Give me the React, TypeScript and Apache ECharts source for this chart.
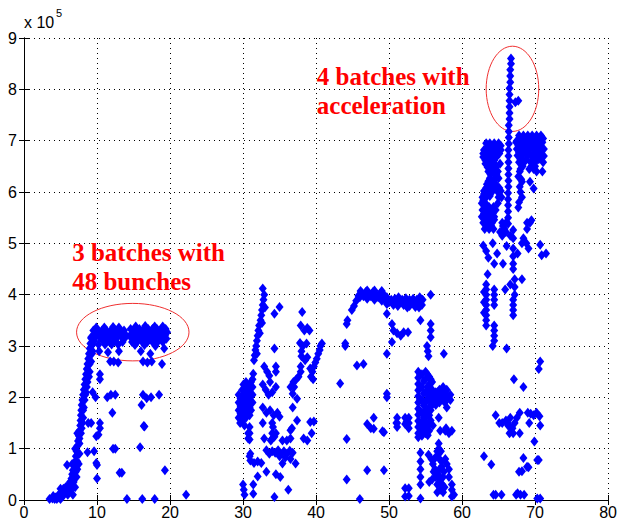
import React, { useEffect, useRef } from "react";
import * as echarts from "echarts";

// y values are in units of 10^5 (axis label "x 10^5")
const xTickValues = [0, 10, 20, 30, 40, 50, 60, 70, 80];
const yTickValues = [0, 1, 2, 3, 4, 5, 6, 7, 8, 9];

const rampPoints: number[][] = [
  [3.5,0.02],[3.9,0.03],[4.3,0.05],[4.6,0.08],[4.9,0.12],[5.2,0.17],[5.4,0.22],[5.7,0.25],[5.9,0.2],[6.1,0.3],
  [6.3,0.35],[6.5,0.42],[6.6,0.5],[6.7,0.58],[6.9,0.65],[7.0,0.75],[7.1,0.85],[7.2,0.95],[7.3,1.05],[7.4,1.15],
  [7.5,1.25],[7.6,1.35],[7.7,1.45],[7.75,1.55],[7.8,1.65],[7.85,1.75],[7.9,1.85],[8.0,1.95],[8.1,2.05],[8.2,2.15],
  [8.3,2.25],[8.4,2.35],[8.5,2.45],[8.6,2.55],[8.7,2.65],[8.8,2.75],[8.9,2.85],[9.0,2.95],[9.1,3.05],[9.2,3.15],
  [4.0,0.08],[4.8,0.05],[5.0,0.22],[5.5,0.12],[6.0,0.1],[6.4,0.2],[6.8,0.35],[7.2,0.45],[6.6,0.7],[7.5,0.7],
  [7.0,1.0],[7.3,1.3],[7.6,1.1],[7.9,1.4],[8.1,1.6],[8.2,1.8],[8.5,2.1],[8.7,2.3],[9.0,2.5],[9.2,2.7],
  [9.4,2.9],[6.7,0.1],[5.9,0.68],[7.0,0.25],[7.3,0.6],[7.6,0.9],
  [4.2,0.02],[4.5,0.02],[5.0,0.02],[5.3,0.07],[5.6,0.17],[6.2,0.15],[6.5,0.25],[6.8,0.45],[7.1,0.55],
  [7.3,0.75],[7.4,0.9],[7.6,1.2],[7.8,1.3],[8.0,1.5],[8.1,1.75],[8.3,1.95],[8.4,2.05],[8.6,2.2],[8.9,2.4],
  [9.0,2.65],[9.3,2.85],[9.5,3.1],
];

const plateauPoints: number[][] = [
  [9.5,3.3],[10.1,3.3],[10.7,3.3],[11.3,3.3],[11.9,3.3],[12.5,3.3],[13.1,3.3],[13.7,3.3],
  [9.2,3.17],[9.8,3.17],[10.4,3.17],[11.0,3.17],[11.6,3.17],[12.2,3.17],[12.8,3.17],[13.4,3.17],[13.9,3.17],
  [9.4,3.03],[10.2,3.03],[11.1,3.03],[12.0,3.03],[12.9,3.03],
  [14.6,3.33],[15.2,3.33],[15.8,3.33],[16.4,3.33],[17.0,3.33],[17.6,3.33],[18.2,3.33],[18.8,3.33],[19.4,3.33],
  [14.5,3.2],[15.1,3.2],[15.7,3.2],[16.3,3.2],[16.9,3.2],[17.5,3.2],[18.1,3.2],[18.7,3.2],[19.3,3.2],
  [14.8,3.08],[15.5,3.08],[16.2,3.08],[16.9,3.08],[17.6,3.08],[18.3,3.08],[19.0,3.08],
  [11.5,2.88],[13.0,2.9],[16.0,2.9],[17.3,2.85],[19.2,2.95],[10.3,2.9],
  [9.7,3.24],[10.3,3.24],[10.9,3.24],[11.5,3.24],[12.1,3.24],[12.7,3.24],[13.3,3.24],[13.8,3.24],
  [9.6,3.1],[10.8,3.1],[11.6,3.1],[12.4,3.1],[13.5,3.08],[9.9,3.36],[11.0,3.36],[12.2,3.37],[13.0,3.36],
  [14.9,3.27],[15.5,3.27],[16.1,3.27],[16.7,3.27],[17.3,3.27],[17.9,3.27],[18.5,3.27],[19.1,3.27],[19.6,3.27],
  [14.8,3.14],[15.4,3.14],[16.0,3.14],[16.6,3.14],[17.2,3.14],[17.8,3.14],[18.4,3.14],[19.0,3.14],[19.5,3.14],
  [15.3,3.38],[16.6,3.39],[17.9,3.38],[19.0,3.38],[15.2,3.02],[16.5,3.02],[18.0,3.0],
];

const earlyScatter: number[][] = [
  [11.8,2.7],[12.3,2.7],[12.9,2.68],[16.3,2.7],[16.9,2.68],[17.5,2.7],[18.9,2.65],[10.4,2.45],[10.4,2.35],
  [11.4,2.0],[11.9,2.05],[12.5,2.05],[16.3,2.05],[16.8,1.98],[17.4,2.0],[18.5,2.05],[16.1,1.85],[12.1,1.7],
  [9.2,1.5],[10.4,1.5],[10.4,1.4],[10.2,1.27],[16.5,1.43],[8.7,0.93],[12.5,1.0],[15.9,1.03],[10.0,0.68],
  [13.1,0.53],[13.4,0.53],[19.3,0.58],[10.0,0.42],[22.2,0.1],[14.1,0.02],[16.2,0.02],[17.9,0.02],[9.6,0.95],
  [9.9,1.24],[9.9,0.72],[12.2,1.0],[16.4,1.44],[8.8,1.5],[9.4,2.1],[9.8,2.0],
];

const batch30Points: number[][] = [
  [29.4,1.6],[29.4,1.75],[29.4,1.9],[29.4,2.05],
  [29.9,1.55],[29.9,1.7],[29.9,1.85],[29.9,2.0],[29.9,2.15],
  [30.4,1.6],[30.4,1.75],[30.4,1.9],[30.4,2.05],[30.4,2.2],[30.4,2.3],
  [30.9,1.65],[30.9,1.8],[30.9,1.95],[30.9,2.1],[30.9,2.25],
  [31.3,1.9],[31.3,2.05],[31.3,2.2],[31.3,2.35],
  [29.65,1.68],[29.65,1.83],[29.65,1.98],[30.15,1.62],[30.15,1.78],[30.15,1.93],[30.15,2.08],[30.65,1.7],
  [30.65,1.85],[30.65,2.0],[30.65,2.15],[31.1,1.75],[31.1,1.9],[31.1,2.05],[31.1,2.3],[29.6,1.5],[30.05,2.25],
  [30.2,1.45],[30.9,1.42],[30.9,1.3],[30.9,1.18],[31.4,2.46],
  [31.5,2.72],[31.6,2.82],[31.7,2.92],[31.8,3.0],[31.9,3.1],[32.0,3.2],[32.1,3.3],[32.2,3.4],[32.4,3.5],
  [32.5,3.6],[32.6,3.7],[32.7,3.8],[32.8,3.9],[32.9,4.0],[32.7,4.12],[31.9,2.85],[32.3,3.25],[32.6,3.45],[33.0,3.75],
  [32.9,2.6],[33.3,2.5],[33.6,2.42],[34.5,2.6],[34.5,2.5],[32.7,2.25],[33.1,2.15],[33.5,2.05],[34.0,2.1],
  [34.5,2.2],[33.7,2.3],[34.3,2.95],[35.0,3.76],[34.3,3.63],
  [32.7,1.8],[33.2,1.7],[33.7,1.75],[34.2,1.65],[34.7,1.7],[35.0,1.62],[32.7,1.5],[34.1,1.42],[34.5,1.3],
  [34.3,1.23],[32.9,1.2],[33.8,1.16],[35.4,1.16],[36.0,1.16],[36.5,1.2],[36.5,1.36],
  [33.2,0.97],[33.6,0.9],[34.0,0.95],[34.4,0.92],[34.8,0.97],[35.2,0.9],[35.6,0.95],[36.0,0.9],[36.4,0.96],
  [36.8,0.92],[35.0,0.85],[35.8,0.83],
  [31.0,0.77],[31.5,0.72],[32.0,0.75],[32.5,0.72],[30.9,0.85],[35.4,0.71],[37.2,0.71],[36.5,0.8],
  [30.0,0.3],[30.1,0.2],[30.2,0.1],[31.4,0.3],[31.4,0.12],[33.2,0.55],[32.0,0.46],[34.5,0.5],[35.1,0.45],
  [36.2,0.2],[34.3,0.06],[30.7,1.3],[30.7,1.2],[31.0,0.9],[34.0,1.5],[34.0,1.3],[33.9,1.18],
  [36.7,1.4],[38.3,1.2],[39.4,1.3],[39.7,1.53],[39.2,1.52],[38.8,1.16],[37.4,1.55],[36.8,1.8],[37.4,1.97],[36.8,2.07],
  [36.5,2.2],[36.9,2.3],[37.3,2.35],[37.6,2.4],[37.0,2.2],[37.9,2.5],
  [38.1,3.66],[37.9,3.4],[38.4,3.3],[38.8,3.35],[39.1,3.3],[37.8,3.06],[38.2,3.0],[38.7,3.05],[38.0,2.9],
  [38.0,2.8],[38.5,2.72],[38.8,2.78],[37.9,2.6],[39.2,2.56],
  [39.3,2.4],[39.5,2.5],[39.7,2.6],[39.9,2.68],[40.1,2.75],[40.3,2.85],[40.5,2.92],[40.8,3.05],[40.6,3.0],[39.6,2.35],
];

const arcPoints: number[][] = [
  [44.0,3.05],[44.2,3.43],[44.3,3.5],[44.9,3.7],[45.2,3.78],[45.5,3.88],[45.8,3.98],[46.3,4.03],[46.8,4.05],
  [47.3,4.02],[47.8,4.05],[48.3,4.0],[48.8,4.03],[49.3,4.0],[49.7,3.95],[47.0,3.92],[48.0,3.9],[49.0,3.88],
  [49.7,3.82],[49.7,3.63],[50.3,3.9],[50.8,3.92],[51.3,3.95],[51.8,3.9],[52.3,3.93],[52.8,3.9],[53.3,3.92],
  [53.8,3.9],[50.6,3.8],[51.2,3.78],[52.0,3.8],[52.8,3.78],[53.5,3.82],[54.0,3.85],[54.1,3.75],[55.7,4.0],
  [46.0,3.95],[46.5,3.97],[47.5,3.97],[48.5,3.95],[49.3,3.92],[50.0,3.85],[51.0,3.87],[51.5,3.85],[52.5,3.86],
  [53.0,3.85],[53.6,3.76],[54.2,3.95],[54.6,3.9],[54.5,3.8],[46.1,4.07],[47.0,4.08],[48.0,4.08],[49.0,4.07],[52.5,3.75],
  [50.4,3.43],[50.6,3.3],[51.1,3.25],[51.6,3.2],[52.0,3.27],[52.6,3.27],[50.4,3.08],[49.7,2.85],[45.6,2.62],
  [46.5,2.65],[43.3,2.27],[49.7,2.07],[49.7,2.0],[47.9,1.6],[47.0,1.48],[47.9,1.39],[49.3,1.32],[44.2,1.19],
  [51.1,1.6],[51.1,1.5],[51.1,1.42],[52.7,1.6],[52.7,1.5],[52.7,1.4],[47.0,0.58],[49.3,0.58],[44.2,0.4],
  [46.0,0.02],[47.5,1.4],[49.1,1.34],[51.0,1.5],[52.4,1.53],[52.7,0.23],[52.7,0.08],[54.3,3.5],[55.7,3.43],
  [55.7,3.3],[55.7,3.17],[55.2,3.0],[55.3,2.9],[55.4,2.8],[57.5,2.85],[44.0,3.0],
];

const batch55Points: number[][] = [
  [54.0,2.5],[54.0,2.38],[54.0,2.26],[54.0,2.14],[54.0,2.02],[54.0,1.9],[54.0,1.78],[54.0,1.66],[54.0,1.54],[54.0,1.42],[54.0,1.3],
  [54.5,2.45],[54.5,2.2],[54.5,1.95],[54.5,1.7],[54.5,1.5],[54.5,1.35],[54.5,1.25],
  [55.0,2.5],[55.0,2.35],[55.0,2.1],[55.0,1.9],[55.0,1.75],[55.0,1.6],[55.0,1.45],[55.0,1.3],
  [55.5,2.4],[55.5,2.25],[55.5,2.1],[55.5,1.95],[55.5,1.8],[55.5,1.65],[55.5,1.5],[55.5,1.35],
  [55.9,2.3],[55.9,2.15],[55.9,2.0],[55.9,1.85],
  [56.4,2.1],[56.4,1.95],[56.4,1.85],[56.9,2.15],[56.9,2.0],[56.9,1.9],[57.4,2.2],[57.4,2.05],[57.4,1.95],
  [57.9,2.15],[57.9,2.0],[57.9,1.8],[58.4,2.05],[58.4,1.95],
  [54.25,2.44],[54.25,2.2],[54.25,1.96],[54.25,1.72],[54.25,1.48],[54.75,2.32],[54.75,2.08],[54.75,1.84],
  [54.75,1.6],[54.75,1.38],[55.25,2.45],[55.25,2.2],[55.25,1.97],[55.25,1.7],[55.25,1.4],[55.7,2.35],[55.7,2.05],
  [55.7,1.75],[55.7,1.55],[56.15,2.05],[56.15,1.9],[56.65,2.1],[56.65,1.95],[57.15,2.12],[57.15,1.98],
  [57.65,2.1],[57.65,1.9],[58.15,2.0],[54.0,1.22],[54.6,1.28],[55.3,1.26],
  [56.8,1.6],[57.7,1.35],[58.2,1.3],[58.6,1.35],[52.2,1.6],[52.2,1.48],
  [56.8,1.1],[56.8,1.0],[56.8,0.9],[56.5,0.85],[57.1,0.95],[55.4,0.88],[54.3,0.92],[54.3,0.75],[54.3,0.6],
  [54.3,0.45],[54.3,0.3],[54.3,0.03],[55.8,0.8],[56.0,0.7],[56.3,0.6],[56.7,0.5],[57.0,0.4],[57.3,0.3],
  [57.6,0.25],[56.1,0.55],[55.9,0.4],[56.6,0.3],[57.2,0.65],[57.5,0.55],[57.7,0.8],[57.9,0.7],[58.2,0.6],
  [58.2,0.45],[58.6,0.3],[58.6,0.2],[58.9,0.1],[58.6,0.07],[52.2,0.23],[52.2,0.07],[55.5,0.35],
  [56.6,0.95],[56.9,0.8],[57.2,0.75],[57.4,0.45],[56.4,0.45],[56.9,0.6],[56.2,0.8],[57.0,0.2],[57.4,0.15],[56.6,0.15],
  [54.3,1.5],[54.5,1.45],[55.1,1.5],[56.0,1.45],[57.0,1.35],[57.8,1.4],
];

const spikePoints: number[][] = [
  [66.7,8.6],[66.7,8.5],[66.6,8.38],[66.6,8.26],[66.6,8.14],[66.5,8.02],[66.5,7.9],[66.5,7.78],[66.5,7.66],
  [66.5,7.54],[66.5,7.42],[66.4,7.3],[66.4,7.18],[66.4,7.06],[66.4,6.94],[66.35,6.82],[66.35,6.7],[66.35,6.58],
  [66.35,6.46],[66.35,6.34],[66.35,6.22],[66.35,6.1],[66.3,5.98],[66.3,5.86],[66.3,5.74],[66.3,5.62],
  [66.3,5.5],[66.3,5.38],[67.3,7.75],[67.7,7.78],
];

const accelPoints: number[][] = [
  [63.3,6.95],[63.8,6.95],[64.4,6.95],[65.0,6.95],
  [63.0,6.82],[63.6,6.82],[64.2,6.82],[64.8,6.82],[65.3,6.82],
  [62.9,6.68],[63.5,6.68],[64.1,6.68],[64.7,6.68],
  [63.2,6.55],[63.8,6.55],[64.4,6.55],[65.2,6.55],
  [63.6,6.4],[64.2,6.4],[64.9,6.4],
  [63.8,6.27],[64.5,6.27],[65.0,6.27],
  [63.4,6.15],[64.0,6.15],[64.6,6.15],
  [63.0,6.02],[63.6,6.02],[64.2,6.02],[64.8,6.02],[65.3,6.02],
  [62.8,5.9],[63.3,5.9],[65.0,5.9],[65.4,5.9],
  [62.7,5.78],[63.2,5.78],[64.9,5.78],[63.8,5.92],
  [62.8,5.65],[63.4,5.65],[64.1,5.65],[64.6,5.65],
  [62.7,5.52],[63.3,5.52],[63.9,5.52],[64.4,5.52],
  [62.9,5.4],[63.5,5.4],[64.1,5.4],[65.5,5.4],[66.0,5.4],
  [63.1,5.28],[63.7,5.28],[64.3,5.28],[65.8,5.28],[66.6,5.15],[65.5,5.15],
  [63.6,6.88],[64.2,6.88],[64.8,6.88],[63.3,6.75],[63.9,6.75],[64.5,6.75],[65.1,6.75],[63.2,6.62],[63.8,6.62],
  [64.4,6.62],[63.5,6.48],[64.0,6.48],[64.6,6.48],[63.9,6.34],[64.7,6.34],[63.6,6.21],[64.3,6.21],[63.3,6.08],
  [63.9,6.08],[64.5,6.08],[65.1,6.08],[63.0,5.96],[62.9,5.84],[63.1,5.71],[63.7,5.71],[64.3,5.71],[63.0,5.58],
  [63.6,5.58],[64.2,5.58],[63.2,5.46],[63.8,5.46],[64.4,5.46],[63.4,5.34],[64.0,5.34],[65.6,5.34],[66.0,5.22],
  [65.2,5.22],[65.3,6.9],[62.9,6.75],
  [67.8,7.1],[68.4,7.1],[69.0,7.1],[69.6,7.1],[70.2,7.1],[70.8,7.1],
  [67.4,6.97],[68.0,6.97],[68.6,6.97],[69.2,6.97],[69.8,6.97],[70.4,6.97],[71.0,6.97],
  [67.5,6.84],[68.1,6.84],[68.7,6.84],[69.3,6.84],[69.9,6.84],[70.5,6.84],[71.2,6.84],
  [67.6,6.71],[68.2,6.71],[69.0,6.71],[69.6,6.71],[70.2,6.71],[70.9,6.71],
  [67.8,6.58],[68.5,6.58],[69.4,6.58],[70.0,6.58],[71.1,6.58],
  [68.0,6.45],[69.2,6.45],[69.8,6.45],
  [68.1,7.04],[68.7,7.04],[69.3,7.04],[69.9,7.04],[70.5,7.04],[71.1,7.04],[67.7,6.9],[68.3,6.9],[68.9,6.9],
  [69.5,6.9],[70.1,6.9],[70.7,6.9],[67.8,6.77],[68.4,6.77],[69.0,6.77],[69.9,6.77],[70.6,6.77],[71.2,6.7],
  [68.0,6.64],[68.8,6.64],[69.7,6.64],[70.5,6.64],[68.3,6.5],[69.5,6.5],[70.0,6.5],[67.9,6.4],[68.1,6.25],
  [68.0,6.0],[67.8,5.8],
  [70.2,6.4],[67.7,6.3],[68.2,6.2],[67.9,6.1],[69.3,6.2],[69.8,6.07],[68.2,5.9],[67.7,5.7],[68.9,5.4],
  [68.9,5.28],[67.0,5.26],[67.0,5.1],[69.5,5.45],[71.0,6.4],[69.3,5.4],[67.5,7.0],
  [62.9,4.96],[63.3,4.85],[63.6,4.72],[63.5,4.4],[64.2,5.0],[64.8,4.8],[64.4,4.6],[65.6,4.6],[66.1,4.95],
  [67.0,4.9],[67.0,4.75],[67.0,4.6],[67.0,4.5],[67.6,4.8],[68.2,5.0],[68.8,5.0],[68.4,5.1],[69.1,4.9],
  [70.7,4.97],[70.9,4.77],[71.5,4.8],[68.2,4.3],
  [63.3,4.2],[63.3,4.1],[63.3,4.0],[63.3,3.9],[63.3,3.8],[63.3,3.7],[63.3,3.6],[63.3,3.5],[63.3,3.4],
  [63.0,4.05],[63.0,3.85],[63.0,3.65],[64.4,4.1],[64.4,4.0],[64.4,3.9],[64.4,3.8],[64.4,3.4],[64.4,3.3],
  [64.4,3.2],[64.4,3.1],[64.2,3.0],
  [65.9,4.1],[66.6,4.2],[67.2,4.3],[67.2,4.15],[67.2,4.0],[67.0,3.9],[67.0,3.8],[67.0,3.7],[67.0,3.6],
  [66.1,2.95],[70.7,2.7],[70.5,2.55],[67.1,2.35],[68.4,2.2],
  [64.6,1.65],[65.5,1.5],[66.0,1.55],[66.3,1.45],[66.6,1.6],[66.9,1.4],[67.2,1.5],[66.5,1.3],[67.0,1.3],
  [67.5,1.6],[67.9,1.7],[67.9,1.3],[69.0,1.7],[69.4,1.68],[69.8,1.65],[70.2,1.7],[70.6,1.63],[69.2,1.5],
  [70.7,1.45],[69.9,1.14],[65.1,1.5],[66.2,1.5],[66.6,1.42],
  [63.0,0.85],[64.0,0.69],[68.4,0.82],[69.1,0.64],[68.2,0.56],[67.8,0.55],[70.5,0.78],[70.3,0.78],
  [68.9,0.65],[64.3,0.1],[64.6,0.1],[65.4,0.1],[67.4,0.1],[67.6,0.13],[68.0,0.1],[68.5,0.1],[70.3,0.03],[70.7,0.03],
];

const allPoints: number[][] = [
  ...rampPoints, ...plateauPoints, ...earlyScatter, ...batch30Points,
  ...arcPoints, ...batch55Points, ...spikePoints, ...accelPoints,
];

// annotation ellipses: [centerX, centerY, radiusX, radiusY] in data units
const ellipseData: number[][] = [
  [14.9, 3.27, 7.7, 0.56],
  [66.9, 8.01, 3.6, 0.83],
];

// annotation texts anchored at [x, y] (left, middle)
const noteTexts = ["3 batches with", "48 bunches", "4 batches with", "acceleration"];
const noteAnchors: number[][] = [
  [6.6, 4.83],
  [6.6, 4.25],
  [40.1, 8.25],
  [40.1, 7.68],
];

export default function App() {
  const ref = useRef<HTMLDivElement>(null);

  useEffect(() => {
    if (!ref.current) return;
    const chart = echarts.init(ref.current, undefined, { renderer: "svg" });
    const tickFont = { color: "#000", fontSize: 16, fontFamily: "Liberation Sans" };
    const axisLine = { show: true, lineStyle: { color: "#000", width: 1 } };
    const tick = { show: true, inside: true, length: 5, lineStyle: { color: "#000" } };
    const splitLine = { show: true, lineStyle: { color: "#000", width: 1, type: [1, 4] as any } };
    chart.setOption({
      animation: false,
      backgroundColor: "#fff",
      grid: { left: 24, right: 11, top: 38, bottom: 23, containLabel: false },
      xAxis: [
        {
          type: "value", min: xTickValues[0], max: xTickValues[xTickValues.length - 1], interval: 10,
          position: "bottom", axisLine, axisTick: tick,
          axisLabel: { ...tickFont, margin: 4 }, splitLine,
        },
        {
          type: "value", min: 0, max: 80, interval: 10, position: "top", axisLine, axisTick: tick,
          axisLabel: { show: false }, splitLine: { show: false },
        },
      ],
      yAxis: [
        {
          type: "value", min: yTickValues[0], max: yTickValues[yTickValues.length - 1], interval: 1,
          position: "left", axisLine, axisTick: tick,
          axisLabel: { ...tickFont, margin: 7 }, splitLine,
        },
        {
          type: "value", min: 0, max: 9, interval: 1, position: "right", axisLine, axisTick: tick,
          axisLabel: { show: false }, splitLine: { show: false },
        },
      ],
      graphic: [
        { type: "text", left: 24, top: 14, style: { text: "x 10", font: '16px "Liberation Sans"', fill: "#000" } },
        { type: "text", left: 56, top: 7, style: { text: "5", font: '11px "Liberation Sans"', fill: "#000" } },
      ],
      series: [
        {
          type: "scatter",
          xAxisIndex: 0, yAxisIndex: 0,
          data: allPoints,
          symbol: "diamond",
          symbolSize: [8, 10],
          itemStyle: { color: "#0000ff", opacity: 1 },
          silent: true,
        },
        {
          type: "custom",
          xAxisIndex: 0, yAxisIndex: 0,
          data: ellipseData,
          silent: true,
          clip: false,
          renderItem: (params: any, api: any) => {
            const c = api.coord([api.value(0), api.value(1)]);
            const s = api.size([api.value(2), api.value(3)]);
            return {
              type: "ellipse",
              shape: { cx: c[0], cy: c[1], rx: s[0], ry: s[1] },
              style: { fill: "none", stroke: "#f03030", lineWidth: 1 },
            };
          },
        },
        {
          type: "custom",
          xAxisIndex: 0, yAxisIndex: 0,
          data: noteAnchors,
          silent: true,
          clip: false,
          renderItem: (params: any, api: any) => {
            const c = api.coord([api.value(0), api.value(1)]);
            return {
              type: "text",
              x: c[0], y: c[1],
              style: {
                text: noteTexts[params.dataIndex],
                fill: "#ff0000",
                font: 'bold 25px "Liberation Serif"',
                align: "left",
                verticalAlign: "middle",
              },
            };
          },
        },
      ],
    });
    return () => chart.dispose();
  }, []);

  return (
    <div
      ref={ref}
      style={{ position: "fixed", left: 0, top: 0, width: 620, height: 523, background: "#fff" }}
    />
  );
}
